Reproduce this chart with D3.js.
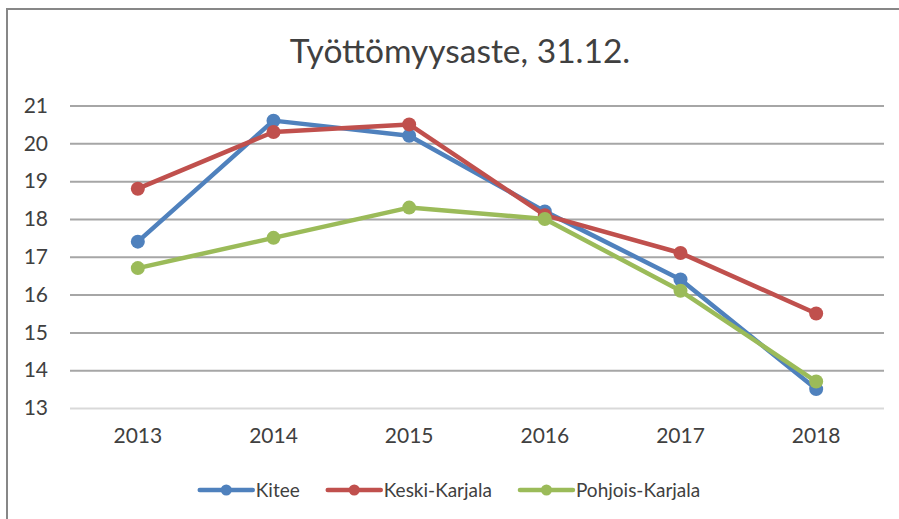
<!DOCTYPE html>
<html>
<head>
<meta charset="utf-8">
<script src="https://cdn.jsdelivr.net/npm/d3@7"></script>
<style>
  body { margin: 0; background: #fff; }
  svg { display: block; font-family: Lato, "Open Sans", sans-serif; }
</style>
</head>
<body>
<div id="chart"></div>
<script>
// Työttömyysaste line chart

var years = ["2013", "2014", "2015", "2016", "2017", "2018"];
var kitee = [17.4, 20.6, 20.2, 18.2, 16.4, 13.5];
var keskiKarjala = [18.8, 20.3, 20.5, 18.1, 17.1, 15.5];
var pohjoisKarjala = [16.7, 17.5, 18.3, 18.0, 16.1, 13.7];
var yTicks = [13, 14, 15, 16, 17, 18, 19, 20, 21];
var seriesNames = ["Kitee", "Keski-Karjala", "Pohjois-Karjala"];
var colors = ["#4f81bd", "#c0504d", "#9bbb59"];

var series = [kitee, keskiKarjala, pohjoisKarjala].map(function(vals, i) {
    return {name: seriesNames[i], color: colors[i], values: vals};
});

var width = 899, height = 519;
var margin = {top: 105.5, right: 15, bottom: 111, left: 70};

var svg = d3.select("#chart")
    .append("svg")
    .attr("width", width)
    .attr("height", height);

// outer chart border (cut by the picture on right and bottom)
svg.append("rect")
    .attr("x", 7)
    .attr("y", 9)
    .attr("width", 1000)
    .attr("height", 1000)
    .attr("fill", "none")
    .attr("stroke", "#878787")
    .attr("stroke-width", 2);

var x = d3.scaleBand()
    .domain(years)
    .range([margin.left, width - margin.right])
    .padding(0);

var y = d3.scaleLinear()
    .domain([13, 21])
    .range([height - margin.bottom, margin.top]);

// title
svg.append("text")
    .attr("x", 460)
    .attr("y", 63)
    .attr("text-anchor", "middle")
    .attr("font-size", 33.5)
    .attr("fill", "#404040")
    .text("Työttömyysaste, 31.12.");

// gridlines
var yAxis = d3.axisLeft(y)
    .tickValues(yTicks)
    .tickSize(-(width - margin.right - margin.left))
    .tickPadding(22)
    .tickFormat(d3.format("d"));

var gy = svg.append("g")
    .attr("transform", "translate(" + margin.left + ",0)")
    .call(yAxis);

gy.select(".domain").remove();
gy.selectAll(".tick line")
    .attr("stroke", function(d) { return d == 13 ? "#d9d9d9" : "#a6a6a6"; })
    .attr("stroke-width", 2);
gy.selectAll(".tick text")
    .attr("font-size", 21)
    .attr("fill", "#404040")
    .attr("font-family", "Lato, sans-serif");

var xAxis = d3.axisBottom(x)
    .tickSize(0)
    .tickPadding(20);

var gx = svg.append("g")
    .attr("transform", "translate(0," + y(13) + ")")
    .call(xAxis);

gx.select(".domain").remove();
gx.selectAll(".tick text")
    .attr("font-size", 21)
    .attr("fill", "#404040")
    .attr("font-family", "Lato, sans-serif");

var line = d3.line()
    .x(function(d, i) { return x(years[i]) + x.bandwidth() / 2; })
    .y(function(d) { return y(d); });

series.forEach(function(s) {
    var g = svg.append("g");
    g.append("path")
        .datum(s.values)
        .attr("d", line)
        .attr("fill", "none")
        .attr("stroke", s.color)
        .attr("stroke-width", 4.5)
        .attr("stroke-linejoin", "round");
    g.selectAll("circle")
        .data(s.values)
        .enter()
        .append("circle")
        .attr("cx", function(d, i) { return x(years[i]) + x.bandwidth() / 2; })
        .attr("cy", function(d) { return y(d); })
        .attr("r", 7)
        .attr("fill", s.color);
});

// legend
var legend = svg.append("g");
var lx = 0;
series.forEach(function(s, i) {
    var item = legend.append("g").attr("transform", "translate(" + lx + ",0)");
    item.append("line")
        .attr("x1", 0).attr("x2", 53)
        .attr("y1", 0).attr("y2", 0)
        .attr("stroke", s.color)
        .attr("stroke-width", 4.5)
        .attr("stroke-linecap", "round");
    item.append("circle")
        .attr("cx", 26.5).attr("cy", 0).attr("r", 5.5)
        .attr("fill", s.color);
    var t = item.append("text")
        .attr("x", 56)
        .attr("y", 0)
        .attr("dy", "0.35em")
        .attr("font-size", 19)
        .attr("fill", "#404040")
        .text(s.name);
    lx += 56 + t.node().getComputedTextLength() + 28;
});
var legendWidth = lx - 28;
legend.attr("transform", "translate(" + (450 - legendWidth / 2) + ",490)");
</script>
</body>
</html>
